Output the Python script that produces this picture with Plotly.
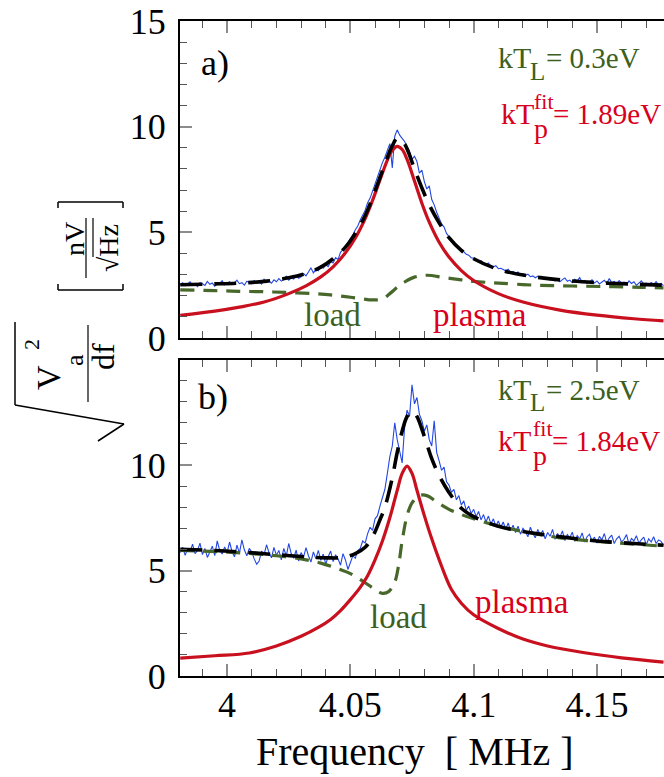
import numpy as np
import plotly.graph_objects as go

# ---------------------------------------------------------------- data
# sampled spectrum frequencies [MHz]
f_start, f_step, n_samples = 3.981, 0.001, 197
freq = np.round(f_start + f_step * np.arange(n_samples), 4)

# (a) kT_L = 0.3 eV : measured spectrum [nV/sqrt(Hz)]
meas_a = [
    2.52, 2.61, 2.47, 2.58, 2.66, 2.50, 2.55, 2.43, 2.62, 2.57,
    2.49, 2.68, 2.54, 2.60, 2.45, 2.63, 2.58, 2.71, 2.52, 2.59,
    2.66, 2.53, 2.61, 2.74, 2.57, 2.62, 2.50, 2.69, 2.64, 2.56,
    2.72, 2.60, 2.67, 2.55, 2.78, 2.63, 2.70, 2.59, 2.75, 2.66,
    2.81, 2.69, 2.77, 2.92, 2.74, 2.85, 2.79, 2.96, 2.83, 2.90,
    3.05, 2.94, 3.12, 3.32, 3.08, 3.25, 3.18, 3.41, 3.30, 3.46,
    3.38, 3.62, 3.55, 3.80, 3.72, 4.05, 4.18, 4.32, 4.50, 4.71,
    4.88, 5.12, 5.30, 5.58, 5.82, 6.05, 6.40, 6.62, 6.95, 7.30,
    7.55, 7.92, 8.30, 8.55, 8.85, 9.20, 8.05, 9.55, 9.85, 9.60,
    9.45, 9.30, 9.05, 8.80, 8.45, 8.60, 8.35, 7.80, 7.95, 7.40,
    7.05, 7.20, 6.55, 6.30, 5.95, 5.70, 5.40, 5.25, 4.95, 4.80,
    4.62, 4.55, 4.38, 4.30, 4.15, 4.08, 3.96, 3.92, 3.80, 3.78,
    3.70, 3.62, 3.66, 3.52, 3.48, 3.55, 3.40, 3.36, 3.42, 3.28,
    3.30, 3.22, 3.18, 3.25, 3.10, 3.15, 3.05, 3.12, 2.98, 3.04,
    2.96, 3.02, 2.90, 2.94, 2.85, 2.92, 2.82, 2.88, 2.78, 2.86,
    2.74, 2.82, 2.70, 2.80, 2.66, 2.76, 2.84, 2.68, 2.74, 2.62,
    2.78, 2.70, 2.86, 2.64, 2.72, 2.58, 2.68, 2.75, 2.60, 2.70,
    2.56, 2.66, 2.73, 2.59, 2.81, 2.62, 2.68, 2.54, 2.72, 2.60,
    2.64, 2.52, 2.70, 2.58, 2.66, 2.49, 2.62, 2.71, 2.55, 2.60,
    2.50, 2.63, 2.54, 2.67, 2.52, 2.58, 2.48,
]

# (a) plasma contribution
plasma_fa = [3.981, 3.995, 4.005, 4.015, 4.025, 4.032, 4.038, 4.043, 4.048, 4.052,
             4.056, 4.059, 4.062, 4.065, 4.067, 4.069, 4.071, 4.073, 4.076, 4.079,
             4.082, 4.086, 4.090, 4.095, 4.100, 4.110, 4.120, 4.135, 4.150, 4.165, 4.177]
plasma_a = [1.07, 1.27, 1.46, 1.70, 2.10, 2.47, 2.89, 3.37, 4.03, 4.73,
            5.65, 6.51, 7.48, 8.42, 8.88, 9.07, 8.92, 8.45, 7.43, 6.38,
            5.48, 4.53, 3.83, 3.19, 2.72, 2.10, 1.70, 1.32, 1.08, 0.91, 0.81]

# (a) total fit
fit_fa = plasma_fa
fit_a = [2.52, 2.56, 2.60, 2.68, 2.85, 3.05, 3.35, 3.75, 4.30, 4.95,
         5.80, 6.65, 7.60, 8.55, 9.10, 9.45, 9.35, 8.95, 8.00, 7.10,
         6.30, 5.45, 4.75, 4.15, 3.75, 3.25, 2.98, 2.75, 2.62, 2.55, 2.50]

# (a) load contribution
load_fa = [3.981, 3.995, 4.005, 4.015, 4.025, 4.035, 4.042, 4.048, 4.054, 4.059,
           4.063, 4.066, 4.069, 4.072, 4.076, 4.081, 4.088, 4.095, 4.100, 4.110,
           4.125, 4.140, 4.155, 4.168, 4.177]
load_a = [2.28, 2.24, 2.21, 2.19, 2.15, 2.10, 2.04, 1.96, 1.87, 1.80,
          1.85, 2.10, 2.40, 2.65, 2.88, 2.97, 2.86, 2.75, 2.68, 2.60,
          2.50, 2.46, 2.43, 2.40, 2.37]

# (b) kT_L = 2.5 eV : measured spectrum [nV/sqrt(Hz)]
meas_b = [
    5.85, 6.10, 5.72, 6.05, 5.90, 6.25, 5.80, 5.95, 6.30, 5.75,
    6.05, 5.62, 5.88, 6.15, 5.70, 6.40, 5.95, 5.78, 6.12, 5.85,
    6.35, 5.90, 5.65, 6.20, 5.82, 6.45, 5.98, 5.70, 6.05, 5.88,
    5.55, 5.30, 5.45, 5.92, 5.75, 6.22, 5.85, 5.60, 6.10, 5.72,
    5.95, 5.50, 6.05, 5.68, 6.28, 5.80, 5.58, 5.96, 5.45, 5.85,
    5.62, 6.08, 5.70, 5.40, 5.88, 5.55, 5.95, 5.48, 5.78, 5.30,
    5.65, 5.92, 5.42, 5.75, 5.55, 5.25, 5.80, 5.50, 5.05, 5.40,
    5.70, 5.58, 5.95, 6.05, 6.40, 6.30, 6.75, 7.05, 6.90, 7.45,
    7.60, 8.05, 8.40, 8.85, 9.60, 10.40, 10.90, 12.00, 11.20, 10.60,
    10.10, 11.80, 12.60, 12.30, 13.80, 12.90, 13.20, 12.40, 12.10, 11.60,
    11.90, 11.20, 10.90, 12.10, 10.60, 10.20, 9.75, 9.90, 9.20, 9.05,
    8.70, 8.85, 8.35, 8.55, 8.10, 8.30, 7.85, 8.05, 7.70, 7.90,
    7.55, 7.80, 7.40, 7.65, 7.30, 7.58, 7.20, 7.45, 7.10, 7.35,
    7.05, 7.30, 6.95, 7.25, 6.88, 7.15, 6.80, 7.10, 6.72, 7.00,
    6.85, 6.60, 7.05, 6.75, 6.55, 6.95, 6.68, 6.90, 6.50, 6.80,
    6.62, 6.95, 6.48, 6.75, 6.58, 6.88, 6.42, 6.70, 6.55, 6.82,
    6.38, 6.65, 6.50, 6.78, 6.35, 6.60, 6.72, 6.40, 6.58, 6.30,
    6.62, 6.45, 6.75, 6.32, 6.55, 6.68, 6.28, 6.50, 6.62, 6.35,
    6.48, 6.70, 6.25, 6.52, 6.40, 6.65, 6.30, 6.45, 6.58, 6.22,
    6.50, 6.35, 6.60, 6.28, 6.45, 6.38, 6.20,
]

# (b) plasma contribution
plasma_fb = [3.981, 3.995, 4.009, 4.020, 4.030, 4.037, 4.042, 4.046, 4.050, 4.054,
             4.057, 4.060, 4.063, 4.066, 4.069, 4.071, 4.073, 4.075, 4.077, 4.080,
             4.083, 4.087, 4.091, 4.095, 4.100, 4.110, 4.120, 4.130, 4.145, 4.160, 4.177]
plasma_b = [0.85, 0.96, 1.09, 1.42, 1.88, 2.30, 2.68, 3.10, 3.62, 4.20,
            4.75, 5.50, 6.40, 7.50, 8.80, 9.60, 9.95, 9.60, 8.80, 7.60,
            6.50, 5.20, 4.10, 3.45, 2.90, 2.25, 1.75, 1.42, 1.10, 0.86, 0.66]

# (b) total fit
fit_fb = [3.981, 3.995, 4.009, 4.020, 4.030, 4.040, 4.047, 4.052, 4.056, 4.059,
          4.062, 4.064, 4.067, 4.069, 4.071, 4.073, 4.075, 4.077, 4.079, 4.081,
          4.083, 4.086, 4.090, 4.095, 4.100, 4.110, 4.120, 4.135, 4.150, 4.165, 4.177]
fit_b = [6.00, 5.95, 5.85, 5.75, 5.66, 5.60, 5.62, 5.80, 6.10, 6.60,
         7.40, 8.00, 9.40, 10.60, 11.60, 12.30, 12.55, 12.30, 11.70, 11.00,
         10.30, 9.50, 8.70, 7.95, 7.55, 7.10, 6.85, 6.60, 6.40, 6.28, 6.20]

# (b) load contribution
load_fb = [3.981, 3.990, 4.000, 4.010, 4.020, 4.030, 4.038, 4.044, 4.050, 4.055,
           4.060, 4.063, 4.0655, 4.068, 4.0695, 4.071, 4.073, 4.075, 4.078, 4.081,
           4.085, 4.090, 4.095, 4.100, 4.110, 4.120, 4.135, 4.150, 4.165, 4.177]
load_b = [5.95, 5.92, 5.87, 5.80, 5.70, 5.55, 5.35, 5.12, 4.85, 4.50,
          4.10, 3.92, 4.00, 4.45, 5.20, 6.40, 7.60, 8.20, 8.55, 8.55,
          8.25, 7.90, 7.65, 7.45, 7.10, 6.85, 6.55, 6.38, 6.25, 6.15]

# axes
x_range = [3.9809, 4.1772]
x_tickvals = [4.0, 4.05, 4.1, 4.15]
x_ticktext = ["4", "4.05", "4.1", "4.15"]
y_range = [0, 15]
y_tickvals = [0, 5, 10, 15]
y_ticktext_a = ["0", "5", "10", "15"]
y_ticktext_b = ["0", "5", "10", ""]

# ---------------------------------------------------------------- style
W, H = 664, 777
FONT = "Liberation Serif"
BLUE = "#2347e2"
RED = "#c8101e"
RED_TXT = "#d8001c"
GREEN = "#47682a"
GREEN_TXT = "#3d5f20"


def px(x):
    return x / W


def py(y):
    return 1 - y / H


fig = go.Figure()

panels = [
    ("x", "y", meas_a, plasma_fa, plasma_a, fit_fa, fit_a, load_fa, load_a),
    ("x2", "y2", meas_b, plasma_fb, plasma_b, fit_fb, fit_b, load_fb, load_b),
]
for xa, ya, meas, pf, pv, ff, fv, lf, lv in panels:
    fig.add_trace(go.Scatter(x=freq, y=meas, mode="lines", xaxis=xa, yaxis=ya,
                             line=dict(color=BLUE, width=1.1)))
    fig.add_trace(go.Scatter(x=lf, y=lv, mode="lines", xaxis=xa, yaxis=ya,
                             line=dict(color=GREEN, width=3.2, dash="14px,9px",
                                       shape="spline")))
    fig.add_trace(go.Scatter(x=pf, y=pv, mode="lines", xaxis=xa, yaxis=ya,
                             line=dict(color=RED, width=3.2, shape="spline")))
    fig.add_trace(go.Scatter(x=ff, y=fv, mode="lines", xaxis=xa, yaxis=ya,
                             line=dict(color="black", width=3.6, dash="22px,12px",
                                       shape="spline")))

axis_common = dict(
    showline=True, linecolor="black", linewidth=2,
    ticks="inside", ticklen=12, tickwidth=2, tickcolor="#8c8c8c",
    showgrid=False, zeroline=False, automargin=False,
    tickfont=dict(family=FONT, size=36, color="black"),
)
x_minor = dict(tickmode="linear", tick0=4.0, dtick=0.01, ticks="inside",
               ticklen=7, tickwidth=1, tickcolor="#555555")
y_minor = dict(tickmode="linear", tick0=0, dtick=1, ticks="inside",
               ticklen=7, tickwidth=1, tickcolor="#555555")

dom_x = [px(180), 1.0]
fig.update_layout(
    width=W, height=H,
    margin=dict(l=0, r=0, t=0, b=0, autoexpand=False),
    paper_bgcolor="white", plot_bgcolor="white",
    showlegend=False,
    xaxis=dict(**axis_common, domain=dom_x, range=x_range, anchor="y",
               tickmode="array", tickvals=x_tickvals, ticktext=x_ticktext,
               showticklabels=False, mirror="ticks", minor=x_minor),
    xaxis2=dict(**axis_common, domain=dom_x, range=x_range, anchor="y2",
                tickmode="array", tickvals=x_tickvals, ticktext=x_ticktext,
                mirror="ticks", minor=x_minor, ticklabelstandoff=-4),
    yaxis=dict(**axis_common, domain=[py(338), py(21)], range=y_range, anchor="x",
               tickmode="array", tickvals=y_tickvals, ticktext=y_ticktext_a,
               minor=y_minor, ticklabelstandoff=5),
    yaxis2=dict(**axis_common, domain=[py(676), py(359.5)], range=y_range, anchor="x2",
                tickmode="array", tickvals=y_tickvals, ticktext=y_ticktext_b,
                minor=y_minor, ticklabelstandoff=5),
)


def text_at(text, x, y, size, color="black", xanchor="left", angle=0, baseline=True):
    """Place text; when baseline=True, y is the text baseline in pixels."""
    yc = y - 0.34 * size if baseline else y
    return dict(text=text, x=px(x), y=py(yc), xref="paper", yref="paper",
                showarrow=False, xanchor=xanchor, yanchor="middle",
                textangle=angle, borderpad=0,
                font=dict(family=FONT, size=size, color=color))


ann = [
    # panel tags
    text_at("a)", 215, 63, 36, xanchor="center", baseline=False),
    text_at("b)", 213, 397, 36, xanchor="center", baseline=False),
    # panel a temperatures
    text_at("kT", 497, 68, 30, GREEN_TXT),
    text_at("L", 529, 80, 25, GREEN_TXT),
    text_at("= 0.3eV", 545, 68, 29, GREEN_TXT),
    text_at("kT", 500, 124, 30, RED_TXT),
    text_at("fit", 533, 109, 22, RED_TXT),
    text_at("p", 533, 138, 28, RED_TXT),
    text_at("= 1.89eV", 552, 124, 29, RED_TXT),
    # panel b temperatures
    text_at("kT", 497, 400, 30, GREEN_TXT),
    text_at("L", 529, 411, 25, GREEN_TXT),
    text_at("= 2.5eV", 545, 400, 29, GREEN_TXT),
    text_at("kT", 497, 451, 30, RED_TXT),
    text_at("fit", 532, 436, 22, RED_TXT),
    text_at("p", 532, 465, 28, RED_TXT),
    text_at("= 1.84eV", 551, 451, 29, RED_TXT),
    # curve names
    text_at("load", 332, 326, 33, GREEN_TXT, xanchor="center"),
    text_at("plasma", 480, 326, 33, RED_TXT, xanchor="center"),
    text_at("load", 398, 628, 33, GREEN_TXT, xanchor="center"),
    text_at("plasma", 522, 613, 33, RED_TXT, xanchor="center"),
    # x title
    text_at("Frequency\u00a0\u00a0[ MHz ]", 415, 765, 40, xanchor="center"),
    # y title: sqrt(V_a^2 / df) [nV / sqrt(Hz)], rotated
    text_at("V", 48, 378, 34, xanchor="center", angle=-90, baseline=False),
    text_at("2", 31, 345, 22, xanchor="center", angle=-90, baseline=False),
    text_at("a", 75, 360, 26, xanchor="center", angle=-90, baseline=False),
    text_at("df", 103, 357, 32, xanchor="center", angle=-90, baseline=False),
    text_at("nV", 74, 239, 28, xanchor="center", angle=-90, baseline=False),
    text_at("\u221aHz", 108, 248, 28, xanchor="center", angle=-90, baseline=False),
]
fig.update_layout(annotations=ann)


def seg(x0, y0, x1, y1, w=1.5):
    return dict(type="line", xref="paper", yref="paper",
                x0=px(x0), y0=py(y0), x1=px(x1), y1=py(y1),
                line=dict(color="black", width=w))


shapes = [
    # outer radical
    seg(15, 322, 15, 405), seg(15, 405, 124, 424), seg(124, 424, 98, 441),
    # fraction bars
    seg(88, 325, 88, 402, 1.2), seg(86, 218, 86, 278, 1.2),
    # vinculum over Hz
    seg(93, 218, 93, 257, 1.2),
    # square brackets
    seg(58, 202, 123, 202), seg(58, 202, 58, 208), seg(123, 202, 123, 208),
    seg(58, 290, 123, 290), seg(58, 290, 58, 284), seg(123, 290, 123, 284),
]
fig.update_layout(shapes=shapes)

fig.write_html("out.html")
